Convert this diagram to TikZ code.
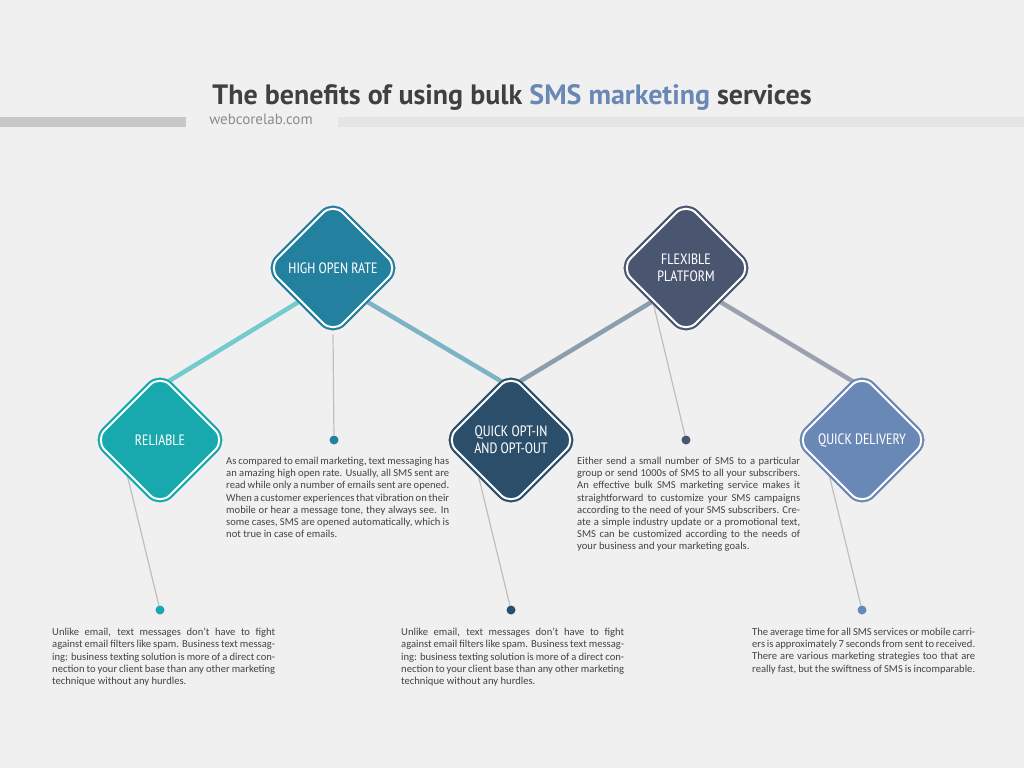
\documentclass[tikz,border=0pt]{standalone}
\usepackage{fontspec}
\setmainfont{Carlito}
\newfontfamily\headfont{PT Sans Narrow}
\newfontfamily\titlefont{PT Sans}
\definecolor{bgc}{HTML}{F0F0F0}
\definecolor{relc}{HTML}{17A9AE}
\definecolor{horc}{HTML}{24809F}
\definecolor{qoic}{HTML}{2B4F6B}
\definecolor{flxc}{HTML}{4A5570}
\definecolor{qdc}{HTML}{6A88B5}
\definecolor{txtc}{HTML}{444444}
\begin{document}
\begin{tikzpicture}[x=1pt,y=-1pt,
		diam/.style={draw=#1,fill=#1,rounded corners=14pt,minimum size=92pt,rotate=45,
			line width=2pt,double=white,double distance=2pt,inner sep=0pt},
		head/.style={text=white,font=\headfont\fontsize{15}{17}\selectfont,align=center},
		stem/.style={draw=black!25,line width=1.2pt},
		link/.style={line width=4.5pt},
		dot/.style={circle,fill=#1,inner sep=0pt,minimum size=9pt},
		body/.style={text=txtc,font=\fontsize{10.6}{12.2}\selectfont,text width=223pt,
			align=justify,anchor=north west,inner sep=0pt}]
		
		\fill[bgc] (0,0) rectangle (1024,768);
		\useasboundingbox (0,0) rectangle (1024,768);
		
		% title
		\node[font=\titlefont\bfseries\fontsize{28}{32}\selectfont,text=black!75] (title) at (512,97)
			{The benefits of using bulk \textcolor{qdc}{SMS marketing} services};
		\fill[black!22] (0,117) rectangle (186,127);
		\fill[black!10] (338,117) rectangle (1024,127);
		\node[font=\titlefont\fontsize{15}{17}\selectfont,text=black!45] (site) at (261,119) {webcorelab.com};
		
		% dots
		\node[dot=relc] (drel) at (160,610) {};
		\node[dot=horc] (dhor) at (334,440) {};
		\node[dot=qoic] (dqoi) at (511,610) {};
		\node[dot=flxc] (dflx) at (686,440) {};
		\node[dot=qdc] (dqd) at (862,610) {};
		
		% diamonds
		\node[diam=relc] (rel) at (160,440) {};
		\node[diam=horc] (hor) at (333,268) {};
		\node[diam=qoic] (qoi) at (511,440) {};
		\node[diam=flxc] (flx) at (686,268) {};
		\node[diam=qdc] (qd) at (862,440) {};
		
		% connectors
		\draw[link,relc!60] (rel.north) -- (hor.west);
		\draw[link,horc!60] (hor.south) -- (qoi.east);
		\draw[link,qoic!55] (qoi.north) -- (flx.west);
		\draw[link,flxc!55] (flx.south) -- (qd.east);
		
		% stems
		\draw[stem] (rel.west) -- (drel);
		\draw[stem] (hor.west) ++(0,0) coordinate (h1);
		\draw[stem] (hor.south west) -- (dhor);
		\draw[stem] (qoi.west) -- (dqoi);
		\draw[stem] (flx.west) -- (dflx);
		\draw[stem] (qd.west) -- (dqd);
		\node[diam=relc] at (rel) {};
		\node[diam=horc] at (hor) {};
		\node[diam=qoic] at (qoi) {};
		\node[diam=flxc] at (flx) {};
		\node[diam=qdc] at (qd) {};
		
		\node[head] at (rel) {RELIABLE};
		\node[head] at (hor) {HIGH OPEN RATE};
		\node[head] at (qoi) {QUICK OPT-IN\\AND OPT-OUT};
		\node[head] at (flx) {FLEXIBLE\\PLATFORM};
		\node[head] at (qd) {QUICK DELIVERY};
		
		% texts
		\node[body] (trel) at (52,628) {Unlike email, text messages don't have to fight against email filters like spam. Business text messaging: business texting solution is more of a direct connection to your client base than any other marketing technique without any hurdles.};
		\node[body] (thor) at (226,457) {As compared to email marketing, text messaging has an amazing high open rate. Usually, all SMS sent are read while only a number of emails sent are opened. When a customer experiences that vibration on their mobile or hear a message tone, they always see. In some cases, SMS are opened automatically, which is not true in case of emails.};
		\node[body] (tqoi) at (401,628) {Unlike email, text messages don't have to fight against email filters like spam. Business text messaging: business texting solution is more of a direct connection to your client base than any other marketing technique without any hurdles.};
		\node[body] (tflx) at (577,457) {Either send a small number of SMS to a particular group or send 1000s of SMS to all your subscribers. An effective bulk SMS marketing service makes it straightforward to customize your SMS campaigns according to the need of your SMS subscribers. Create a simple industry update or a promotional text, SMS can be customized according to the needs of your business and your marketing goals.};
		\node[body] (tqd) at (752,628) {The average time for all SMS services or mobile carriers is approximately 7 seconds from sent to received. There are various marketing strategies too that are really fast, but the swiftness of SMS is incomparable.};
\end{tikzpicture}
\end{document}
